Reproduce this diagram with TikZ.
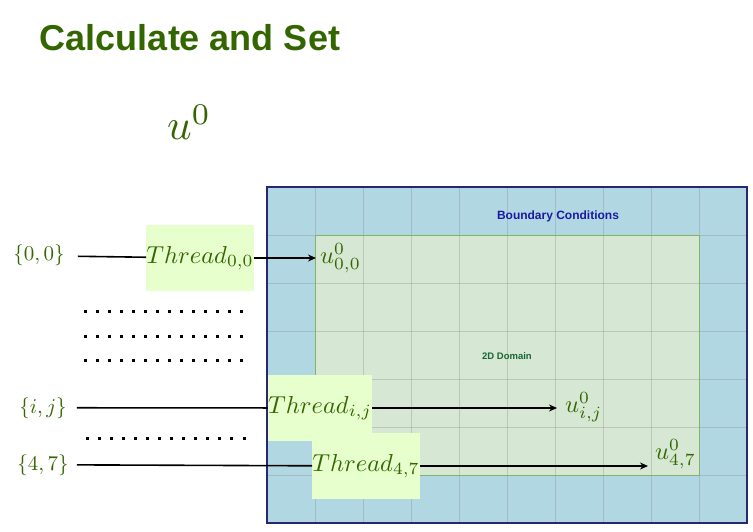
\documentclass[tikz,border=0pt]{standalone}
\usepackage{fontspec}
\usepackage{graphicx}
\newfontfamily\arialf{Liberation Sans}
\usetikzlibrary{arrows.meta}
\definecolor{bcblue}{RGB}{177,215,227}
\definecolor{bcborder}{RGB}{40,40,110}
\definecolor{domfill}{RGB}{214,232,212}
\definecolor{domborder}{RGB}{130,179,102}
\definecolor{thrfill}{RGB}{230,255,204}
\definecolor{tgreen}{RGB}{51,102,0}
\definecolor{bctext}{RGB}{26,26,160}
\definecolor{domtext}{RGB}{26,102,51}
\newcommand\mth[2]{\scalebox{#1}{\fontsize{10}{12}\selectfont$#2$}}
\begin{document}
\begin{tikzpicture}[x=1pt,y=-1pt,
  lbl/.style={text=tgreen, inner sep=0pt, anchor=base},
  thr/.style={fill=thrfill, text=tgreen, inner xsep=0pt, inner ysep=0pt, minimum height=66pt},
  uval/.style={text=tgreen, inner sep=0pt, anchor=base west},
  conn/.style={line width=1.6pt, draw=black},
  arr/.style={conn, -{Stealth[length=8pt,width=7pt]}},
  gridline/.style={draw=black!45, draw opacity=0.35, line width=1pt},
  dotmark/.style={fill=black}]
\useasboundingbox (0,0) rectangle (753,532);

% title
\node[anchor=base, text=tgreen, font=\arialf\bfseries\fontsize{36}{40}\selectfont] (title) at (190,51) {Calculate and Set};
\node[anchor=base west, text=tgreen, inner sep=0pt] (utop) at (167,140) {\mth{4.3}{u^0}};

% domain
\fill[bcblue] (267,187) rectangle (747,523);
\fill[domfill] (315,235) rectangle (699,475);
\foreach \k in {0,...,8} \draw[gridline] ({315+48*\k},187) -- ({315+48*\k},523);
\foreach \k in {0,...,5} \draw[gridline] (267,{235+48*\k}) -- (747,{235+48*\k});
\draw[domborder, line width=1pt] (315,235) rectangle (699,475);
\draw[bcborder, line width=1.6pt] (267,187) rectangle (747,523);
\node[text=bctext, font=\arialf\bfseries\fontsize{12}{14}\selectfont] (bc) at (558,216) {Boundary Conditions};
\node[text=domtext, font=\arialf\bfseries\fontsize{9.5}{11}\selectfont] (dom) at (507,356) {2D Domain};

% dots
\foreach \r in {311,336,360}
  \foreach \k in {0,...,13}
    \fill[dotmark] ({85+12*\k-1.5},{\r-1.5}) rectangle ++(3,3);
\foreach \k in {0,...,13}
  \fill[dotmark] ({87+12.08*\k-1.5},{438-1.5}) rectangle ++(3,3);

% labels
\node[lbl] (lbl00) at (39,261) {\mth{2.1}{\{0,0\}}};
\node[lbl] (lblij) at (43,413) {\mth{2.1}{\{i,j\}}};
\node[lbl] (lbl47) at (43,470) {\mth{2.1}{\{4,7\}}};

% threads
\node[thr] (thr00) at (200,258) {\mth{2.45}{Thread_{0,0}}};
\node[thr] (thrij) at (320,408) {\mth{2.45}{Thread_{i,j}}};
\node[thr] (thr47) at (366,466) {\mth{2.45}{Thread_{4,7}}};

% values
\node[uval] (u00) at (320,263) {\mth{2.45}{u^0_{0,0}}};
\node[uval] (uij) at (565,412) {\mth{2.45}{u^0_{i,j}}};
\node[uval] (u47) at (655,459) {\mth{2.45}{u^0_{4,7}}};

% connectors
\draw[conn, shorten <=13pt] (lbl00) -- (thr00);
\draw[conn, shorten <=10pt] (lblij) -- (thrij);
\draw[conn, shorten <=8pt] (lbl47) -- (thr47);
\draw[arr, shorten >=4pt] (thr00.east) -- (thr00.east -| u00.west);
\draw[arr, shorten >=8pt] (thrij.east) -- (thrij.east -| uij.west);
\draw[arr, shorten >=7pt] (thr47.east) -- (thr47.east -| u47.west);
\end{tikzpicture}
\end{document}
